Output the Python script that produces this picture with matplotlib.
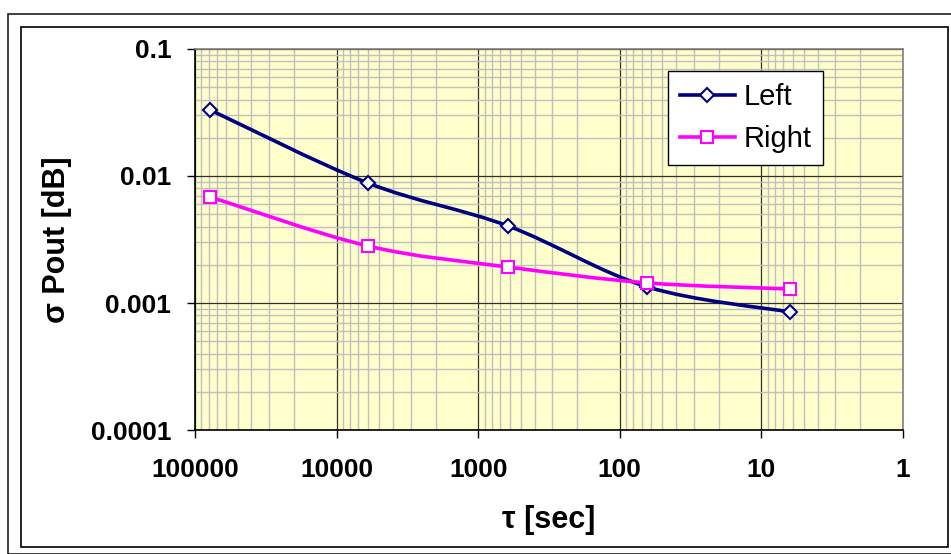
import numpy as np
import matplotlib.pyplot as plt
from matplotlib.path import Path
from matplotlib.patches import PathPatch, Rectangle
from matplotlib.lines import Line2D
from matplotlib.ticker import LogLocator, FuncFormatter, NullFormatter

# ---------- DATA ----------
tau = [78000, 6000, 615, 64, 6.3]
left = [0.0331, 0.0088, 0.00404, 0.00134, 0.00085]
right = [0.00684, 0.00281, 0.00192, 0.00144, 0.00129]

NAVY = "#000080"
MAGENTA = "#FF00FF"
BG = "#FFFFCC"

plt.rcParams["font.family"] = ["Liberation Sans", "DejaVu Sans"]


def smooth_path(xs, ys):
    # Excel-style smoothed line: cubic bezier through the points, built in log space
    lx = np.log10(xs)
    ly = np.log10(ys)
    pts = np.column_stack([lx, ly])
    n = len(pts)
    verts = [pts[0]]
    codes = [Path.MOVETO]
    for i in range(n - 1):
        p0 = pts[i - 1] if i > 0 else pts[i]
        p1 = pts[i]
        p2 = pts[i + 1]
        p3 = pts[i + 2] if i + 2 < n else pts[i + 1]
        c1 = p1 + (p2 - p0) / 6.0
        c2 = p2 - (p3 - p1) / 6.0
        verts += [c1, c2, p2]
        codes += [Path.CURVE4] * 3
    verts = 10 ** np.array(verts)
    return Path(verts, codes)


fig = plt.figure(figsize=(9.51, 5.54), dpi=100)
ax = fig.add_axes([0.205, 0.2238, 0.7445, 0.6878])
ax.set_facecolor(BG)

ax.set_xscale("log")
ax.set_yscale("log")
ax.set_xlim(100000, 1)
ax.set_ylim(0.0001, 0.1)

ax.xaxis.set_major_locator(LogLocator(base=10, numticks=10))
ax.yaxis.set_major_locator(LogLocator(base=10, numticks=10))
ax.xaxis.set_minor_locator(LogLocator(base=10, subs=np.arange(2, 10), numticks=10))
ax.yaxis.set_minor_locator(LogLocator(base=10, subs=np.arange(2, 10), numticks=10))
fmt = FuncFormatter(lambda v, p: "%g" % v)
ax.xaxis.set_major_formatter(fmt)
ax.yaxis.set_major_formatter(fmt)
ax.xaxis.set_minor_formatter(NullFormatter())
ax.yaxis.set_minor_formatter(NullFormatter())

ax.grid(which="minor", color="#C0C0C0", linewidth=1.0)
ax.grid(which="major", color="#303030", linewidth=0.9)
ax.set_axisbelow(True)

ax.tick_params(which="major", direction="out", length=6, width=1, color="black",
               labelsize=19)
ax.tick_params(axis="x", which="major", pad=14)
ax.tick_params(axis="y", which="major", pad=11)
ax.tick_params(which="minor", length=0)
for lab in ax.get_xticklabels() + ax.get_yticklabels():
    lab.set_fontweight("bold")

for s in ["left", "bottom"]:
    ax.spines[s].set_color("black")
    ax.spines[s].set_linewidth(1.2)
for s in ["top", "right"]:
    ax.spines[s].set_color("#808080")
    ax.spines[s].set_linewidth(1.2)

for ys, col in [(left, NAVY), (right, MAGENTA)]:
    ax.add_patch(PathPatch(smooth_path(tau, ys), facecolor="none", edgecolor=col,
                           linewidth=2.6, zorder=3))

ax.plot(tau, left, linestyle="none", marker="D", markersize=7.5, markerfacecolor="white",
        markeredgecolor=NAVY, markeredgewidth=1.5, zorder=4)
ax.plot(tau, right, linestyle="none", marker="s", markersize=8.5, markerfacecolor="white",
        markeredgecolor=MAGENTA, markeredgewidth=1.5, zorder=4)

handles = [
    Line2D([], [], color=NAVY, linewidth=2.6, marker="D", markersize=7.5,
           markerfacecolor="white", markeredgecolor=NAVY, markeredgewidth=1.5),
    Line2D([], [], color=MAGENTA, linewidth=2.6, marker="s", markersize=8.5,
           markerfacecolor="white", markeredgecolor=MAGENTA, markeredgewidth=1.5),
]
leg = ax.legend(handles, ["Left", "Right"], loc="upper left",
                bbox_to_anchor=(0.668, 0.942), fontsize=21, frameon=True,
                fancybox=False, edgecolor="black", framealpha=1,
                handlelength=1.9, handletextpad=0.3, borderpad=0.4,
                labelspacing=0.5, borderaxespad=0)
leg.get_frame().set_linewidth(1.0)

ax.set_xlabel("τ [sec]", fontsize=22, fontweight="bold")
ax.set_ylabel("σ Pout [dB]", fontsize=22, fontweight="bold")
ax.xaxis.set_label_coords(0.5, (430 - 520) / 381)
ax.xaxis.label.set_va("center")
ax.yaxis.set_label_coords((57 - 195) / 708, 0.5)
ax.yaxis.label.set_va("center")

# outer frames
fig.patches.append(Rectangle((8 / 951, 0), 1, 1 - 14 / 554, transform=fig.transFigure,
                             fill=False, edgecolor="#202020", linewidth=1.2))
fig.patches.append(Rectangle((21 / 951, 7 / 554), (948 - 21) / 951, (547 - 27) / 554,
                             transform=fig.transFigure, fill=False,
                             edgecolor="black", linewidth=1.2))

fig.savefig("out.png", dpi=100, facecolor="white")
